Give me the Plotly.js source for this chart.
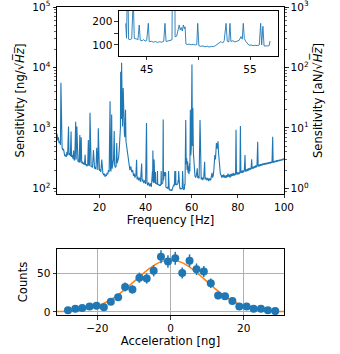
<!DOCTYPE html>
<html>
<head>
<meta charset="utf-8">
<script src="https://cdn.plot.ly/plotly-3.0.1.min.js"></script>
<style>html,body{margin:0;padding:0;background:#fff;}#chart{width:340px;height:354px;}</style>
</head>
<body>
<div id="chart"></div>
<script>
// Spectrum: frequency [Hz] and sensitivity [ng/sqrt(Hz)]
const freq = [1.6,1.9,2.2,2.5,2.8,3.1,3.3,3.5,3.8,4.1,4.4,4.7,5.0,5.3,5.6,5.9,6.2,6.6,6.8,7.1,7.4,7.7,7.9,8.2,8.5,8.8,9.0,9.3,9.7,9.9,10.2,10.4,10.7,11.0,11.2,11.5,11.7,12.1,12.3,12.6,12.9,13.2,13.5,13.8,14.0,14.3,14.6,14.9,15.2,15.4,15.7,15.9,16.1,16.4,16.7,17.0,17.4,17.6,17.9,18.2,18.5,18.8,19.0,19.3,19.5,19.7,20.0,20.3,20.6,21.0,21.2,21.5,21.8,22.1,22.4,22.7,23.0,23.3,23.6,23.9,24.2,24.6,24.8,25.0,25.3,25.5,25.8,26.1,26.4,26.6,26.9,27.2,27.5,27.7,28.0,28.3,28.6,28.9,29.1,29.2,29.3,29.5,29.6,29.8,30.0,30.3,30.5,30.8,31.0,31.3,31.5,31.8,32.1,32.5,32.8,
  33.2,33.6,34.0,34.4,34.8,35.1,35.4,35.8,36.1,36.3,36.6,37.0,37.4,37.8,38.3,38.5,38.8,39.2,39.6,40.0,40.4,40.6,40.9,41.3,41.7,42.1,42.5,
  42.97,43.05,43.16,43.25,43.4,43.55,43.7,43.8,44.0,44.15,44.28,44.38,44.55,44.7,44.85,45.0,45.16,45.25,45.45,45.65,45.85,46.05,46.25,46.45,46.65,46.77,46.88,47.05,47.25,47.45,47.64,47.75,47.9,48.06,48.15,48.25,48.35,48.45,48.55,48.65,48.72,48.8,48.95,49.1,49.3,49.5,49.7,49.85,49.94,50.05,50.25,50.45,50.65,50.85,51.05,51.25,51.45,51.65,51.85,52.05,52.2,52.35,52.5,52.68,52.8,52.95,53.06,53.15,53.35,53.55,53.75,53.95,54.13,54.25,54.35,54.45,54.6,54.75,54.9,55.1,55.3,55.5,55.7,55.9,56.03,56.13,56.25,56.36,56.5,56.7,56.85,56.94,
  57.1,57.4,57.6,57.8,58.0,58.2,58.4,58.6,58.8,59.0,59.2,59.4,59.6,59.8,60.1,60.3,60.5,60.7,60.9,61.1,61.4,61.7,62.0,62.4,62.6,62.9,63.2,63.6,63.8,64.1,64.4,64.8,65.2,65.6,65.8,66.2,66.6,67.0,67.4,67.8,68.2,68.5,68.8,69.0,69.3,69.6,70.0,70.3,70.7,71.0,71.4,71.6,71.8,
  72.1,72.4,72.7,73.0,73.3,73.6,73.9,74.2,74.5,74.8,75.1,75.4,75.7,76.0,76.3,76.6,76.9,77.2,77.5,77.8,78.1,78.4,78.7,79.0,79.2,79.4,79.7,80.0,80.3,80.6,80.9,81.1,81.3,81.6,81.9,82.2,82.5,82.8,83.1,83.3,83.6,83.9,84.2,84.5,84.8,85.1,85.4,85.7,86.0,86.2,86.5,86.8,87.1,87.4,87.7,88.0,88.3,88.6,88.8,89.1,89.4,89.7,90.0,90.3,90.6,90.9,91.2,91.5,91.8,92.1,92.4,92.7,93.0,93.3,93.6,93.9,94.2,94.5,94.8,95.1,95.3,95.6,95.9,96.2,96.5,96.8,97.1,97.4,97.7,98.0,98.3,98.6,98.9,99.2,99.5,99.8,100.0];
const sens = [800,620,700,560,600,520,5600,500,470,430,450,390,340,360,330,400,350,1050,360,380,340,870,330,355,310,420,300,290,1260,300,1050,290,275,300,265,760,270,700,260,275,250,265,245,360,240,250,230,245,630,235,240,1780,240,225,235,220,430,225,210,225,205,470,215,200,980,210,195,205,185,300,180,175,168,175,155,165,160,180,170,200,185,2750,200,190,1660,210,250,300,890,240,220,230,560,260,280,320,450,790,1000,8500,3700,1400,12000,1500,1050,4570,900,800,700,2000,600,480,420,330,290,
  200,230,185,200,160,175,150,165,295,140,155,135,150,128,257,130,140,122,135,118,1200,125,112,125,108,120,105,
  193,129,420,125,123,127,300,128,126,122,186,120,118,123,117,119,193,114,116,112,115,111,114,112,116,193,115,118,120,122,1380,135,138,170,186,165,175,160,186,170,178,104,102,104,101,103,100,102,193,97,94,96,92,95,91,94,93,97,104,110,115,108,118,193,116,113,193,115,118,113,116,120,136,125,193,128,115,108,99,100,97,99,97,100,193,100,180,96,95,96,97,117,
  112,1350,250,316,200,280,180,230,170,260,190,2000,350,450,11200,500,2140,400,295,200,160,150,162,214,148,160,145,1350,155,140,152,136,150,275,140,150,135,148,132,145,135,150,180,150,160,200,355,300,560,450,600,400,316,
  220,175,166,150,165,152,170,150,162,148,165,152,175,155,168,150,172,158,175,160,180,162,175,165,933,170,185,168,182,172,190,1070,178,195,180,198,184,200,355,188,205,190,210,195,215,200,218,205,302,210,225,212,232,218,238,222,240,590,228,245,230,250,236,252,240,258,244,260,246,262,250,266,252,268,256,272,258,276,262,710,264,280,268,285,272,290,276,292,280,296,284,300,288,305,292,310,300];

// Inset window limits of the plotted stretch
const insetFrom = 42.9, insetTo = 57.0;

// Histogram: acceleration bins [ng], counts, count errors
const accel = [-28.0,-26.0,-24.1,-22.1,-20.2,-18.2,-16.3,-14.3,-12.4,-10.4,-8.5,-6.5,-4.6,-2.6,-0.7,1.3,3.2,5.2,7.1,9.1,11.0,13.0,14.9,16.9,18.8,20.8,22.7,24.7,26.6,28.6];
const counts = [2,4,5,7,8,6,13,19,32,29,44,43,53,71,65,69,50,66,55,52,37,21,20,14,7,7,4,4,2,1];
const countErr = [1.4,2.0,2.2,2.6,2.8,2.4,3.6,4.4,5.7,5.4,6.6,6.6,7.3,8.4,8.1,8.3,7.1,8.1,7.4,7.2,6.1,4.6,4.5,3.7,2.6,2.6,2.0,2.0,1.4,1.0];

// Fitted curve
const fitX = [-31,-30,-27,-24,-21,-18,-15,-12,-9,-6,-3,0,3,6,9,12,15,18,21,24,27,30,31];
const fitY = [0.4,0.5,1.3,2.9,6.1,11.5,19.7,30.6,43.1,55.1,63.8,67,63.8,55.1,43.1,30.6,19.7,11.5,6.1,2.9,1.3,0.5,0.4];

const leftTicks = [100,1000,10000,100000];
const leftTickText = ['10<sup>2</sup>','10<sup>3</sup>','10<sup>4</sup>','10<sup>5</sup>'];
const rightTicks = [1,10,100,1000];
const rightTickText = ['10<sup>0</sup>','10<sup>1</sup>','10<sup>2</sup>','10<sup>3</sup>'];

const blue = '#1f77b4', orange = '#ff7f0e';
const insetF = [], insetS = [];
for (let i = 0; i < freq.length; i++) {
  if (freq[i] >= insetFrom && freq[i] <= insetTo) { insetF.push(freq[i]); insetS.push(sens[i]); }
}

const traces = [
  {x: freq, y: sens, xaxis: 'x', yaxis: 'y', mode: 'lines', line: {color: blue, width: 1.1}, hoverinfo: 'skip'},
  {x: [], y: [], xaxis: 'x', yaxis: 'y2', mode: 'lines', hoverinfo: 'skip'},
  {x: insetF, y: insetS, xaxis: 'x2', yaxis: 'y3', mode: 'lines', line: {color: blue, width: 0.9}, hoverinfo: 'skip'},
  {x: fitX, y: fitY, xaxis: 'x3', yaxis: 'y4', mode: 'lines', line: {color: orange, width: 1.5, shape: 'spline'}, hoverinfo: 'skip'},
  {x: accel, y: counts, xaxis: 'x3', yaxis: 'y4', mode: 'markers', marker: {color: blue, size: 8},
   error_y: {type: 'data', array: countErr, visible: true, color: blue, thickness: 1.5, width: 0}, hoverinfo: 'skip'}
];

const font = {family: 'DejaVu Sans', size: 10.5, color: '#000'};
const titleFont = {family: 'DejaVu Sans', size: 11.6, color: '#000'};
const axBase = {showline: true, linecolor: '#000', linewidth: 1, ticks: 'outside', ticklen: 3.5, tickwidth: 0.8, tickcolor: '#000', zeroline: false, showgrid: false, tickfont: font, ticklabeloverflow: 'allow'};
const minorLog = {ticks: 'outside', ticklen: 2, tickwidth: 0.6, tickcolor: '#000', dtick: 'D1'};

const layout = {
  width: 340, height: 354,
  margin: {l: 57, r: 56, t: 7, b: 39},
  paper_bgcolor: '#fff', plot_bgcolor: '#fff',
  showlegend: false,
  font: font,
  xaxis: Object.assign({}, axBase, {domain: [0, 1], anchor: 'y', range: [1.6, 100], tickvals: [20,40,60,80,100], mirror: true,
    title: {text: 'Frequency [Hz]', font: titleFont, standoff: 2}}),
  yaxis: Object.assign({}, axBase, {domain: [0.3929, 1], anchor: 'x', type: 'log', range: [1.905, 5.001], tickvals: leftTicks, ticktext: leftTickText, minor: minorLog,
    title: {text: 'Sensitivity [ng/√<i>H̅z̅</i>]', font: titleFont, standoff: 5}}),
  yaxis2: Object.assign({}, axBase, {overlaying: 'y', side: 'right', anchor: 'x', type: 'log', range: [-0.095, 3.001], tickvals: rightTicks, ticktext: rightTickText, minor: minorLog,
    title: {text: 'Sensitivity [aN/√<i>H̅z̅</i>]', font: titleFont, standoff: 5}}),
  xaxis2: Object.assign({}, axBase, {domain: [0.2731, 0.9722], anchor: 'y3', range: [42.32, 57.68], tickvals: [45,50,55], ticktext: ['45','','55'], mirror: true}),
  yaxis3: Object.assign({}, axBase, {domain: [0.8419, 0.987], anchor: 'x2', range: [54, 246], tickvals: [100,150,200], ticktext: ['100','','200'], mirror: true}),
  xaxis3: Object.assign({}, axBase, {domain: [0, 1], anchor: 'y4', range: [-31, 31], tickvals: [-20,0,20], ticktext: ['−20','0','20'], mirror: true,
    showgrid: true, gridcolor: '#b0b0b0', gridwidth: 1,
    title: {text: 'Acceleration [ng]', font: titleFont, standoff: 2}}),
  yaxis4: Object.assign({}, axBase, {domain: [0, 0.2143], anchor: 'x3', range: [-4, 81], tickvals: [0,50], mirror: true,
    showgrid: true, gridcolor: '#b0b0b0', gridwidth: 1,
    title: {text: 'Counts', font: titleFont, standoff: 6}})
};

Plotly.newPlot('chart', traces, layout, {staticPlot: true, displayModeBar: false});
</script>
</body>
</html>
